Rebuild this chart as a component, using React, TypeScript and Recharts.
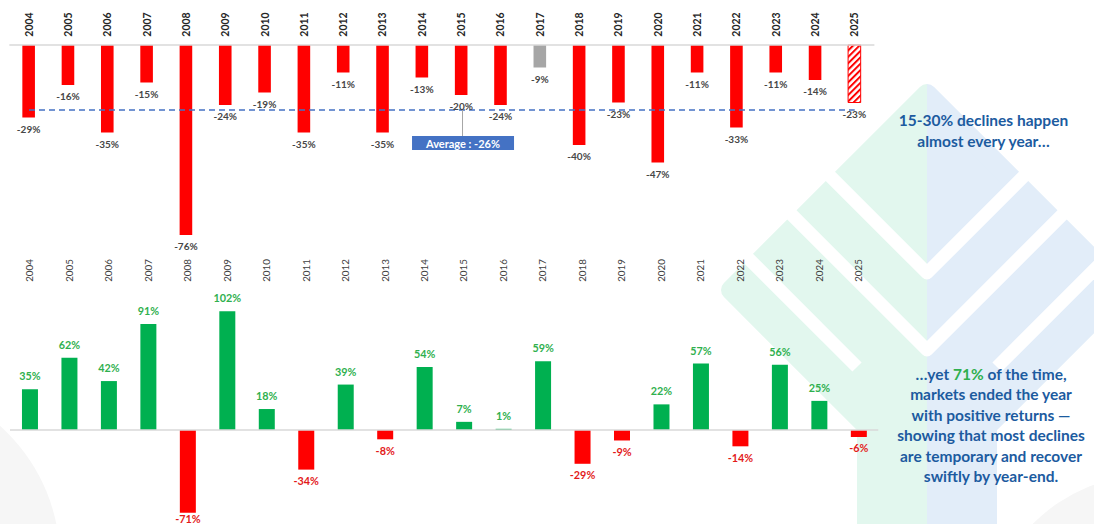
import {
  Bar,
  Cell,
  ComposedChart,
  LabelList,
  Line,
  ReferenceLine,
  XAxis,
  YAxis,
} from "recharts";

const YEARS = [
  "2004", "2005", "2006", "2007", "2008", "2009", "2010", "2011", "2012", "2013", "2014",
  "2015", "2016", "2017", "2018", "2019", "2020", "2021", "2022", "2023", "2024", "2025",
];

// intra-year max drawdown (%)
const DRAWDOWN = [
  -29, -16, -35, -15, -76, -24, -19, -35, -11, -35, -13,
  -20, -24, -9, -40, -23, -47, -11, -33, -11, -14, -23,
];

// calendar year return (%)
const ANNUAL_RETURN = [
  35, 62, 42, 91, -71, 102, 18, -34, 39, -8, 54,
  7, 1, 59, -29, -9, 22, 57, -14, 56, 25, -6,
];

const AVG_DRAWDOWN = -26;
const AVG_TAG = "Average : -26%";
const AVG_TAG_YEAR = "2015";
const GREY_YEAR = "2017";
const YTD_YEAR = "2025";

const NOTE_TOP = ["15-30% declines happen", "almost every year…"];
const NOTE_BOTTOM = [
  "markets ended the year",
  "with positive returns —",
  "showing that most declines",
  "are temporary and recover",
  "swiftly by year-end.",
];

const RED = "#ff0000";
const GREEN = "#00b050";
const BLUE_TXT = "#1c5b9f";
const FONT = "Lato, 'Open Sans', sans-serif";

const ddData = YEARS.map((year, i) => ({
  year,
  dd: DRAWDOWN[i],
  avg: AVG_DRAWDOWN,
  tag: year === AVG_TAG_YEAR ? AVG_TAG : null,
}));

const retData = YEARS.map((year, i) => ({ year, ret: ANNUAL_RETURN[i] }));

function YearTick(props: any) {
  const { x, y, payload, lift, bold } = props;
  return (
    <text
      transform={`translate(${x + 3.6},${y - lift}) rotate(-90)`}
      textAnchor="start"
      fontFamily={FONT}
      fontSize={bold ? 10.5 : 9.8}
      fontWeight={bold ? 700 : 400}
      fill={bold ? "#262626" : "#404040"}
    >
      {payload.value}
    </text>
  );
}

function pctLabel(opts: { colorPos: string; colorNeg: string; size: number; maxY: number }) {
  return (props: any) => {
    const { x, y, width, height, value } = props;
    if (value == null) return null;
    const top = Math.min(y, y + height);
    const bottom = Math.max(y, y + height);
    const cy = value < 0 ? Math.min(bottom + 11, opts.maxY) : top - 13.5;
    return (
      <text
        x={x + width / 2}
        y={cy}
        textAnchor="middle"
        dominantBaseline="central"
        fontFamily={FONT}
        fontSize={opts.size}
        fontWeight={700}
        fill={value < 0 ? opts.colorNeg : opts.colorPos}
      >
        {value}%
      </text>
    );
  };
}

function AvgTag(props: any) {
  const { x, y, value } = props;
  if (!value) return null;
  return (
    <g>
      <line x1={x + 1} y1={y} x2={x + 1} y2={y + 26} stroke="#a6a6a6" strokeWidth={1} />
      <rect x={x - 49.5} y={y + 26} width={102} height={14} fill="#4472c4" />
      <text
        x={x + 1.5}
        y={y + 33.5}
        textAnchor="middle"
        dominantBaseline="central"
        fontFamily={FONT}
        fontSize={11}
        fontWeight={700}
        fill="#ffffff"
      >
        {value}
      </text>
    </g>
  );
}

function Watermark() {
  // faint logo behind the charts: rounded diamond + stem, split green / blue
  const shape = "927,94 1123,290 987,426 987,560 867,560 867,426 731,290";
  const vee = (b: number) => `${927 - 260},${b - 260} 927,${b} ${927 + 260},${b - 260}`;
  const arms = (b: number) => [
    `${927 - 260},${b - 260} 857,${b - 70}`,
    `997,${b - 70} ${927 + 260},${b - 260}`,
  ];
  return (
    <svg width={1094} height={524} style={{ position: "absolute", left: 0, top: 0 }}>
      <defs>
        <clipPath id="wmLeft">
          <rect x={0} y={0} width={927} height={524} />
        </clipPath>
        <clipPath id="wmRight">
          <rect x={927} y={0} width={200} height={524} />
        </clipPath>
        <pattern id="ytdHatch" width={4.5} height={4.5} patternUnits="userSpaceOnUse" patternTransform="rotate(45)">
          <rect x={0} y={0} width={4.5} height={4.5} fill="#ffffff" />
          <rect x={0} y={0} width={2} height={4.5} fill={RED} />
        </pattern>
      </defs>
      <circle cx={-120} cy={560} r={180} fill="#f6f6f6" />
      <circle cx={1150} cy={640} r={165} fill="#f6f6f6" />
      <g clipPath="url(#wmLeft)">
        <polygon points={shape} fill="#e2f7ee" stroke="#e2f7ee" strokeWidth={20} strokeLinejoin="round" />
      </g>
      <g clipPath="url(#wmRight)">
        <polygon points={shape} fill="#e2edf9" stroke="#e2edf9" strokeWidth={20} strokeLinejoin="round" />
      </g>
      {[273, 350].map((b) => (
        <polyline key={b} points={vee(b)} fill="none" stroke="#ffffff" strokeWidth={13} strokeLinejoin="round" />
      ))}
      {arms(437).map((p) => (
        <polyline key={p} points={p} fill="none" stroke="#ffffff" strokeWidth={13} />
      ))}
    </svg>
  );
}

export default function App() {
  return (
    <div
      style={{
        position: "absolute",
        left: 0,
        top: 0,
        width: 1094,
        height: 524,
        background: "#ffffff",
        overflow: "hidden",
        fontFamily: FONT,
      }}
    >
      <Watermark />

      {/* drawdown per year */}
      <div style={{ position: "absolute", left: 0, top: 0 }}>
        <ComposedChart
          width={890}
          height={262}
          data={ddData}
          margin={{ top: 5, right: 15.6, left: 9.34, bottom: 17 }}
        >
          <XAxis
            dataKey="year"
            orientation="top"
            height={40}
            axisLine={false}
            tickLine={false}
            tickSize={0}
            tickMargin={0}
            interval={0}
            tick={(p: any) => <YearTick {...p} lift={8.3} bold />}
          />
          <YAxis hide domain={[-80, 0]} />
          <ReferenceLine y={0} stroke="#d9d9d9" strokeWidth={1.5} />
          <Bar dataKey="dd" barSize={12.6} isAnimationActive={false}>
            {ddData.map((d) => (
              <Cell
                key={d.year}
                fill={d.year === GREY_YEAR ? "#a6a6a6" : d.year === YTD_YEAR ? "url(#ytdHatch)" : RED}
                stroke={d.year === YTD_YEAR ? RED : "none"}
                strokeWidth={1}
              />
            ))}
            <LabelList
              dataKey="dd"
              content={pctLabel({ colorPos: "#404040", colorNeg: "#474747", size: 10, maxY: 256 })}
            />
          </Bar>
          <Line
            dataKey="avg"
            stroke="#4472c4"
            strokeWidth={1.3}
            strokeDasharray="6 4"
            dot={false}
            activeDot={false}
            isAnimationActive={false}
          >
            <LabelList dataKey="tag" content={AvgTag} />
          </Line>
        </ComposedChart>
      </div>

      {/* calendar year returns */}
      <div style={{ position: "absolute", left: 0, top: 250 }}>
        <ComposedChart
          width={890}
          height={274}
          data={retData}
          margin={{ top: 31.85, right: 11.7, left: 9.97, bottom: 0.8 }}
        >
          <XAxis
            dataKey="year"
            orientation="top"
            height={20}
            axisLine={false}
            tickLine={false}
            tickSize={0}
            tickMargin={0}
            interval={0}
            tick={(p: any) => <YearTick {...p} lift={20} bold={false} />}
          />
          <YAxis hide domain={[-80, 110]} />
          <ReferenceLine y={0} stroke="#d9d9d9" strokeWidth={1.5} />
          <Bar dataKey="ret" barSize={16} isAnimationActive={false}>
            {retData.map((d) => (
              <Cell key={d.year} fill={d.ret >= 0 ? GREEN : RED} />
            ))}
            <LabelList
              dataKey="ret"
              content={pctLabel({ colorPos: "#2fb04e", colorNeg: "#e31a1a", size: 10.8, maxY: 268.5 })}
            />
          </Bar>
        </ComposedChart>
      </div>

      <div
        style={{
          position: "absolute",
          left: 983.5 - 120,
          top: 110.2,
          width: 240,
          textAlign: "center",
          fontSize: 15.5,
          lineHeight: "21px",
          fontWeight: 700,
          color: BLUE_TXT,
        }}
      >
        {NOTE_TOP.map((t) => (
          <div key={t}>{t}</div>
        ))}
      </div>

      <div
        style={{
          position: "absolute",
          left: 991 - 120,
          top: 363.75,
          width: 240,
          textAlign: "center",
          fontSize: 15.5,
          lineHeight: "20.5px",
          fontWeight: 700,
          color: BLUE_TXT,
        }}
      >
        <div>
          …yet <span style={{ color: "#2fb04e" }}>71%</span> of the time,
        </div>
        {NOTE_BOTTOM.map((t) => (
          <div key={t}>{t}</div>
        ))}
      </div>
    </div>
  );
}
